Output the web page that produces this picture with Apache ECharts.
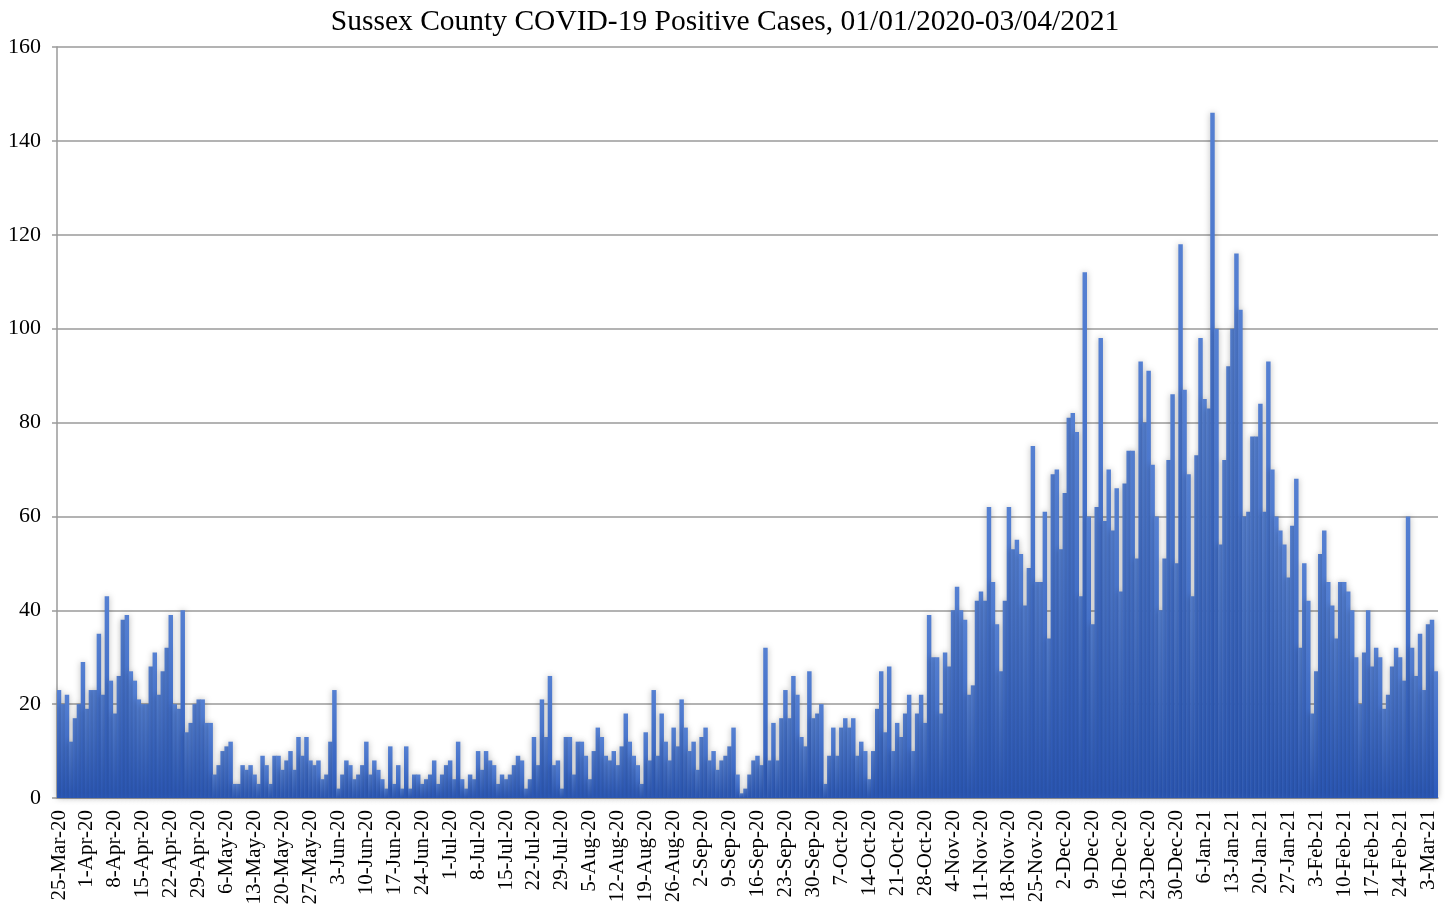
<!DOCTYPE html>
<html>
<head>
<meta charset="utf-8">
<script src="https://cdn.jsdelivr.net/npm/echarts@6/dist/echarts.min.js"></script>
<style>
html,body{margin:0;padding:0;background:#fff;overflow:hidden;}
#c{width:1450px;height:906px;}
</style>
</head>
<body>
<div id="c"></div>
<script>
const titleText = 'Sussex County COVID-19 Positive Cases, 01/01/2020-03/04/2021';
const startDate = [2020, 2, 25]; // 25-Mar-2020, first category
const dayCount = 346;
const monthNames = ['Jan','Feb','Mar','Apr','May','Jun','Jul','Aug','Sep','Oct','Nov','Dec'];
const yTicks = { min: 0, max: 160, interval: 20 };

const cases = [
  23, 20, 22, 12, 17, 20, 29, 19, 23, 23,
  35, 22, 43, 25, 18, 26, 38, 39, 27, 25,
  21, 20, 20, 28, 31, 22, 27, 32, 39, 20,
  19, 40, 14, 16, 20, 21, 21, 16, 16, 5,
  7, 10, 11, 12, 3, 3, 7, 6, 7, 5,
  3, 9, 7, 3, 9, 9, 6, 8, 10, 6,
  13, 9, 13, 8, 7, 8, 4, 5, 12, 23,
  2, 5, 8, 7, 4, 5, 7, 12, 5, 8,
  6, 4, 2, 11, 3, 7, 2, 11, 2, 5,
  5, 3, 4, 5, 8, 3, 5, 7, 8, 4,
  12, 4, 2, 5, 4, 10, 6, 10, 8, 7,
  3, 5, 4, 5, 7, 9, 8, 2, 4, 13,
  7, 21, 13, 26, 7, 8, 2, 13, 13, 5,
  12, 12, 9, 4, 10, 15, 13, 9, 8, 10,
  7, 11, 18, 12, 9, 7, 3, 14, 8, 23,
  9, 18, 12, 8, 15, 11, 21, 15, 10, 12,
  6, 13, 15, 8, 10, 6, 8, 9, 11, 15,
  5, 1, 2, 5, 8, 9, 7, 32, 8, 16,
  8, 17, 23, 17, 26, 22, 13, 11, 27, 17,
  18, 20, 3, 9, 15, 9, 15, 17, 15, 17,
  9, 12, 10, 4, 10, 19, 27, 14, 28, 10,
  16, 13, 18, 22, 10, 18, 22, 16, 39, 30,
  30, 18, 31, 28, 40, 45, 40, 38, 22, 24,
  42, 44, 42, 62, 46, 37, 27, 42, 62, 53,
  55, 52, 41, 49, 75, 46, 46, 61, 34, 69,
  70, 53, 65, 81, 82, 78, 43, 112, 60, 37,
  62, 98, 59, 70, 57, 66, 44, 67, 74, 74,
  51, 93, 80, 91, 71, 60, 40, 51, 72, 86,
  50, 118, 87, 69, 43, 73, 98, 85, 83, 146,
  100, 54, 72, 92, 100, 116, 104, 60, 61, 77,
  77, 84, 61, 93, 70, 60, 57, 54, 47, 58,
  68, 32, 50, 42, 18, 27, 52, 57, 46, 41,
  34, 46, 46, 44, 40, 30, 20, 31, 40, 28,
  32, 30, 19, 22, 28, 32, 30, 25, 60, 32,
  26, 35, 23, 37, 38, 27
];

const categories = [];
for (let i = 0; i < dayCount; i++) {
  const d = new Date(Date.UTC(startDate[0], startDate[1], startDate[2] + i));
  categories.push(d.getUTCDate() + '-' + monthNames[d.getUTCMonth()] + '-' + String(d.getUTCFullYear()).slice(2));
}

const FONT = '"Liberation Serif", "Times New Roman", serif';
const barGradient = new echarts.graphic.LinearGradient(0, 0, 0, 1, [
  { offset: 0, color: '#5580d2' },
  { offset: 1, color: '#2c5abb' }
]);
const chart = echarts.init(document.getElementById('c'), null, { renderer: 'canvas' });
chart.setOption({
  animation: false,
  backgroundColor: '#ffffff',
  title: {
    text: titleText,
    left: 'center',
    top: 2,
    textStyle: { fontFamily: FONT, fontSize: 29.5, fontWeight: 'normal', color: '#000' }
  },
  grid: { left: 57, right: 12, top: 47, bottom: 108, containLabel: false, outerBoundsMode: 'none' },
  xAxis: {
    type: 'category',
    data: categories,
    boundaryGap: true,
    axisLine: { lineStyle: { color: '#9a9a9a', width: 1.5 } },
    axisTick: { interval: 6, length: 6, lineStyle: { color: '#9a9a9a', width: 1.5 } },
    axisLabel: { interval: 6, rotate: 90, fontFamily: FONT, fontSize: 21, color: '#000', margin: 12 }
  },
  yAxis: {
    type: 'value',
    min: yTicks.min,
    max: yTicks.max,
    interval: yTicks.interval,
    axisLine: { show: true, lineStyle: { color: '#9a9a9a', width: 1.5 } },
    axisTick: { show: true, length: 5, lineStyle: { color: '#9a9a9a', width: 1.5 } },
    splitLine: { lineStyle: { color: '#9a9a9a', width: 1.5 } },
    axisLabel: { fontFamily: FONT, fontSize: 22, color: '#000', margin: 16 }
  },
  series: [{
    type: 'bar',
    data: cases,
    barCategoryGap: '-12%',
    itemStyle: {
      color: barGradient,
      shadowBlur: 6,
      shadowColor: 'rgba(0,0,0,0.28)'
    }
  }]
});
</script>
</body>
</html>
